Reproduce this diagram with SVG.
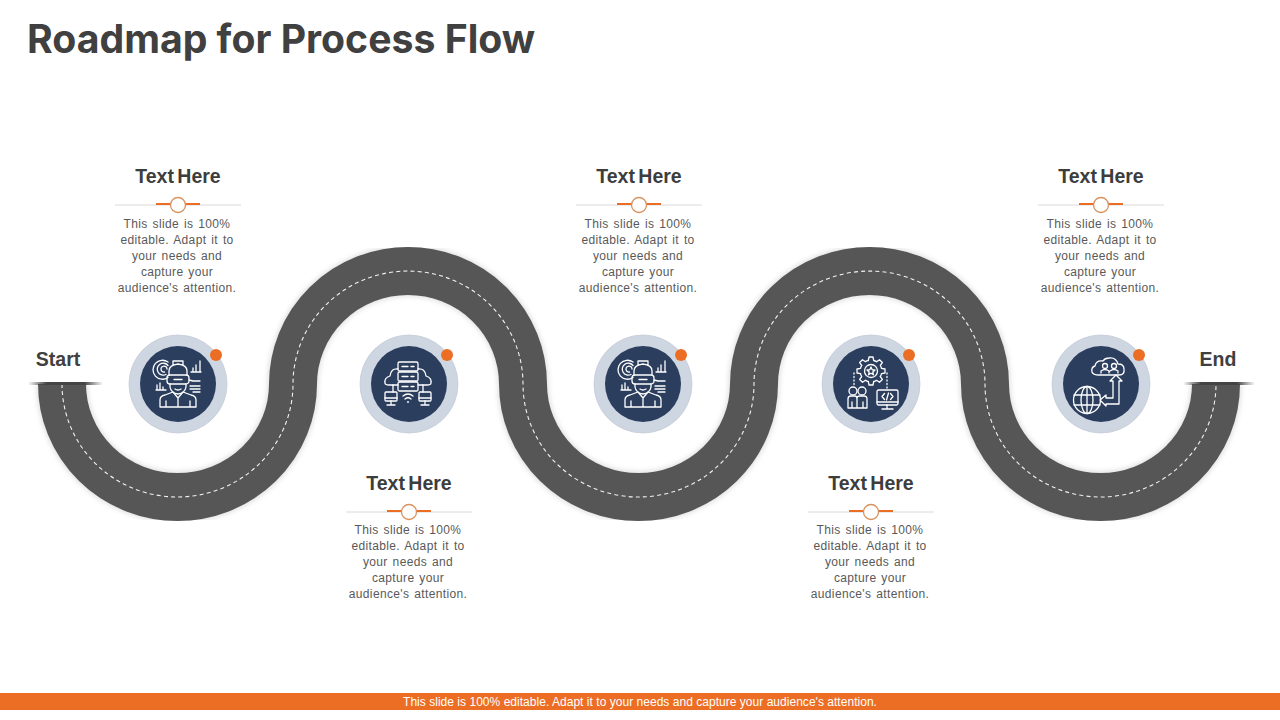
<svg xmlns="http://www.w3.org/2000/svg" width="1280" height="720" viewBox="0 0 1280 720">
<style>
text{font-family:"Liberation Sans",Arial,sans-serif}
.title{font-family:Inter,"Liberation Sans",sans-serif;font-weight:700;font-size:39.2px;fill:#404040}
.h{font-weight:700;font-size:19.5px;fill:#3d3d3d;text-anchor:middle;word-spacing:-2px}
.b{font-size:12px;fill:#595959;text-anchor:middle;letter-spacing:.36px;word-spacing:1.2px}
.se{font-weight:700;font-size:19.5px;fill:#404040;text-anchor:middle}
.rule{stroke:#dadada;stroke-width:1}
.acc{stroke:#ec6e24;stroke-width:2}
.knob{fill:#fff;stroke:#d9925f;stroke-width:1.3}
.halo{fill:#ced6e2;stroke:#c4ccd8;stroke-width:.8}
.core{fill:#2c3e5e}
.dot{fill:#ec6e24}
.i{fill:none;stroke:#fff;stroke-width:1.3;stroke-linecap:round;stroke-linejoin:round}
.dash{fill:none;stroke:#f2f2f2;stroke-width:1.1;stroke-dasharray:4 3.2}
.road{fill:none;stroke:#565656;stroke-width:48}
.glow{fill:none;stroke:#999;stroke-width:51;opacity:.3}
</style>
<defs>
<filter id="sh" x="-5%" y="-10%" width="110%" height="120%"><feGaussianBlur stdDeviation="2.5"/></filter>
<linearGradient id="cap"><stop offset="0" stop-color="#444" stop-opacity="0"/><stop offset=".25" stop-color="#444"/><stop offset=".75" stop-color="#444"/><stop offset="1" stop-color="#444" stop-opacity="0"/></linearGradient>
<path id="route" d="M62 384A115.500 113 0 0 0 293 384A115 113 0 0 1 523 384A115.500 113 0 0 0 754 384A115.500 113 0 0 1 985 384A115.500 113 0 0 0 1216 384"/>
<g id="head">
<line class="rule" x1="-63" y1="29" x2="63" y2="29"/>
<line class="acc" x1="-22" y1="28" x2="22" y2="28"/>
<circle class="knob" cx="0" cy="29" r="7.500"/>
<text class="h" x="0" y="7">Text Here</text>
</g>
<g id="body">
<text class="b"><tspan x="0" y="0">This slide is 100%</tspan><tspan x="0" y="16">editable. Adapt it to</tspan><tspan x="0" y="32">your needs and</tspan><tspan x="0" y="48">capture your</tspan><tspan x="0" y="64">audience's attention.</tspan></text>
</g>
<g id="disc">
<circle class="halo" r="49"/>
<circle class="core" r="38"/>
<circle class="dot" cx="38" cy="-29" r="6"/>
</g>
<g id="ic-vr" class="i">
<path d="M-10-6.500A9.500 9.500 0 1 1-10-22M-12-9.500A6 6 0 1 1-10-18.500M-13.500-12A3 3 0 1 1-11-15"/>
<path d="M-9-9V-13Q-9-19 0-20Q9-19 9-13V-9M-5-19V-23H5V-19"/>
<rect x="-11" y="-9" width="22" height="9" rx="3"/><path d="M-4-4.500H4"/>
<path d="M-8 0V3Q-7 9 0 10Q7 9 8 3V0M-3 5Q0 7 3 5"/>
<path d="M-18 23V16Q-18 12-13 11L-5 8 0 14 5 8 13 11Q18 12 18 16V23ZM0 14V23M-12 17V23M12 17V23"/>
<path d="M13-12H23M15-12V-16M18-12V-19M22-12V-23M-22 6H-12M-21 6V1M-18 6V-1M-15 6V3"/>
<path d="M11-4 15-3H22M12 2H22M12 5H22M15 8H22"/>
</g>
<g id="ic-srv" class="i">
<rect x="-10" y="-22" width="20" height="9" rx="1.500"/><rect x="-10" y="-12" width="20" height="9" rx="1.500"/><rect x="-10" y="-2" width="20" height="9" rx="1.500"/>
<path d="M3-17.500H6M3-7.500H6M3 2.500H6M-6-17.500H0M-6-7.500H0M-6 2.500H0"/>
<path d="M-10-15Q-17-16-18-8Q-24-6-23-1Q-23 1-19 1H-10M10-15Q17-16 18-8Q24-6 23-1Q23 1 19 1H10"/>
<path d="M-15 1V8M15 1V8"/>
<rect x="-23" y="8" width="12" height="9" rx="1"/><path d="M-23 14H-11M-17 17V20M-21 21H-13"/>
<rect x="11" y="8" width="12" height="9" rx="1"/><path d="M11 14H23M17 17V20M13 21H21"/>
<path d="M-5 12Q0 8 5 12M-3 15Q0 12.500 3 15M-.5 18H.5"/>
</g>
<path id="tooth" d="M-2.700-10.500 -2-14H2L2.700-10.500A10.800 10.800 0 0 1 5.550-9.330"/>
<g id="ic-gear" class="i">
<g transform="translate(0 -13)"><use href="#tooth"/><use href="#tooth" transform="rotate(45)"/><use href="#tooth" transform="rotate(90)"/><use href="#tooth" transform="rotate(135)"/><use href="#tooth" transform="rotate(180)"/><use href="#tooth" transform="rotate(225)"/><use href="#tooth" transform="rotate(270)"/><use href="#tooth" transform="rotate(315)"/><circle r="6.500"/></g>
<path d="M0-17 1.200-14.200 4-14 1.800-12 2.500-9.200 0-10.800 -2.500-9.200 -1.800-12 -4-14 -1.200-14.200Z"/>
<path d="M-17-11V1M16-11V5" stroke-dasharray="1 2.500"/>
<circle cx="-18" cy="7" r="4"/><circle cx="-9" cy="7" r="4"/>
<path d="M-23 24V15Q-23 12-20 12H-16Q-14 12-14 15V24ZM-14 14Q-14 12-11 12H-7Q-4 12-4 15V24H-14M-19 18V24M-8 18V24"/>
<rect x="6" y="6" width="21" height="15" rx="1.500"/><path d="M6 18H27M16 21V24M11 25H22M13.500 9.500 11 12.500 13.500 15.500M19.500 9.500 22 12.500 19.500 15.500M17.500 9 15.500 16"/>
</g>
<g id="ic-net" class="i">
<path d="M-2-9H18Q24-9 23-15Q23-20 17-20Q15-27 8-26Q4-26 2-23Q-5-24-6-18Q-10-17-9-12Q-8-9-2-9Z"/>
<circle cx="4" cy="-18" r="2.500"/><circle cx="13" cy="-18" r="2.500"/><path d="M0-11V-13Q4-16 8-13V-11M9-13Q13-16 17-13V-11"/>
<circle cx="-14" cy="16" r="13.500"/><ellipse cx="-14" cy="16" rx="6" ry="13.500"/><path d="M-14 2.500V29.500M-27 11H-1M-27 21H-1"/>
<path d="M-1 16 5 11V14H12V-3H9L15-9 21-3H18V20H5V22Z"/>
</g>
</defs>
<rect width="1280" height="720" fill="#fff"/>
<text class="title" x="27" y="53">Roadmap for Process Flow</text>
<g id="connectors">
<use href="#route" class="glow" filter="url(#sh)"/>
<use href="#route" class="road"/>
<use href="#route" class="dash"/>
<rect x="20" y="370" width="95" height="13" fill="#fff"/>
<rect x="1170" y="370" width="95" height="13" fill="#fff"/>
<rect x="28" y="382" width="75" height="3" fill="url(#cap)"/>
<rect x="1183" y="382" width="72" height="3" fill="url(#cap)"/>
</g>
<g id="start"><text class="se" x="58" y="366">Start</text></g>
<g id="end"><text class="se" x="1218" y="366">End</text></g>
<g id="step-1"><use href="#disc" x="178" y="384"/><use href="#ic-vr" x="178" y="384"/><use href="#head" x="178" y="176"/><use href="#body" x="177" y="228"/></g>
<g id="step-2"><use href="#disc" x="409" y="384"/><use href="#ic-srv" x="408" y="384"/><use href="#head" x="409" y="483"/><use href="#body" x="408" y="534"/></g>
<g id="step-3"><use href="#disc" x="643" y="384"/><use href="#ic-vr" x="643" y="384"/><use href="#head" x="639" y="176"/><use href="#body" x="638" y="228"/></g>
<g id="step-4"><use href="#disc" x="871" y="384"/><use href="#ic-gear" x="871" y="384"/><use href="#head" x="871" y="483"/><use href="#body" x="870" y="534"/></g>
<g id="step-5"><use href="#disc" x="1101" y="384"/><use href="#ic-net" x="1101" y="384"/><use href="#head" x="1101" y="176"/><use href="#body" x="1100" y="228"/></g>
<g id="footer"><rect x="0" y="693" width="1280" height="17" fill="#ec6e24"/><text x="640" y="706" font-size="12" fill="#fff" text-anchor="middle" letter-spacing=".03">This slide is 100% editable. Adapt it to your needs and capture your audience's attention.</text></g>
</svg>
